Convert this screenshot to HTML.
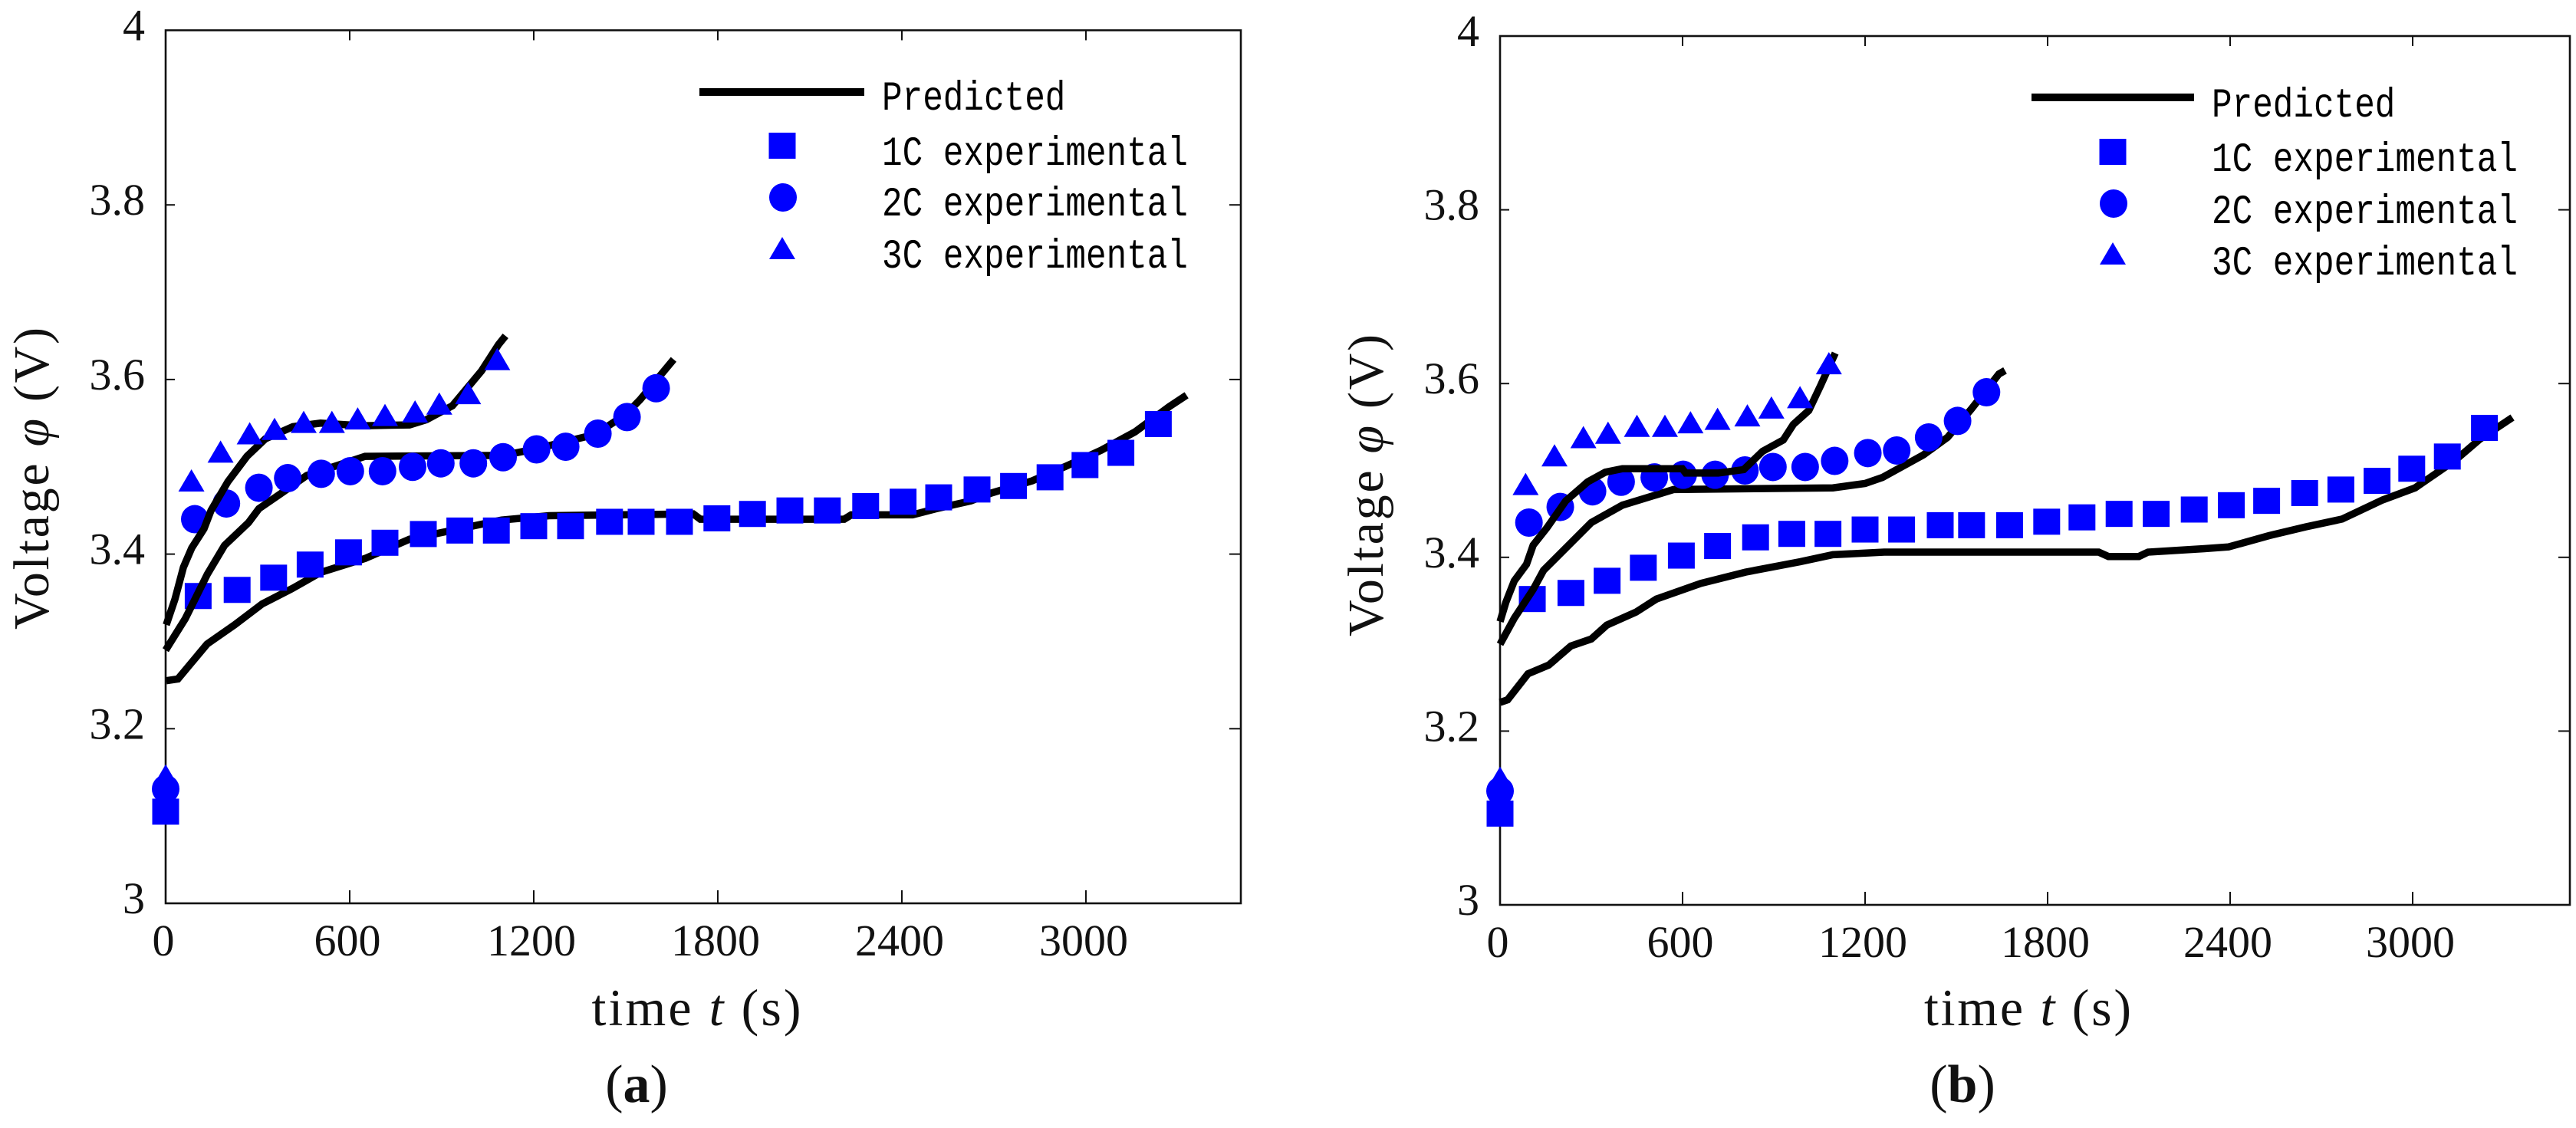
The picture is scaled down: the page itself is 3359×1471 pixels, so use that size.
<!DOCTYPE html>
<html lang="en">
<head>
<meta charset="utf-8">
<title>Voltage versus time, panels a and b</title>
<style>
  html, body { margin: 0; padding: 0; background: #fff; }
  svg { display: block; }
  .serif { font-family: "Liberation Serif", serif; fill: #111; }
  .mono { font-family: "Liberation Mono", monospace; fill: #000; }
</style>
</head>
<body>
<svg id="figure" xmlns="http://www.w3.org/2000/svg" width="3359" height="1471" viewBox="0 0 3359 1471">
  <rect x="0" y="0" width="3359" height="1471" fill="#fff"/>

  <g id="panel-a"></g>
  <g id="panel-b"></g>

  <text class="serif" transform="translate(63,624) rotate(-90)" text-anchor="middle" font-size="66" textLength="394" lengthAdjust="spacing">Voltage <tspan font-style="italic">φ</tspan> (V)</text>
  <text class="serif" x="908" y="1337" text-anchor="middle" font-size="68" textLength="273" lengthAdjust="spacing">time <tspan font-style="italic">t</tspan> (s)</text>
  <text class="serif" x="830" y="1437" text-anchor="middle" font-size="70">(<tspan font-weight="bold">a</tspan>)</text>

  <text class="serif" transform="translate(1803,633) rotate(-90)" text-anchor="middle" font-size="66" textLength="394" lengthAdjust="spacing">Voltage <tspan font-style="italic">φ</tspan> (V)</text>
  <text class="serif" x="2644" y="1337" text-anchor="middle" font-size="68" textLength="270" lengthAdjust="spacing">time <tspan font-style="italic">t</tspan> (s)</text>
  <text class="serif" x="2559" y="1437" text-anchor="middle" font-size="70">(<tspan font-weight="bold">b</tspan>)</text>
</svg>

<script>
// Axis ticks
const xTickValues = [0, 600, 1200, 1800, 2400, 3000];
const xTickLabels = ['0', '600', '1200', '1800', '2400', '3000'];
const yTickValues = [3, 3.2, 3.4, 3.6, 3.8, 4];
const yTickLabels = ['3', '3.2', '3.4', '3.6', '3.8', '4'];
const legendLabels = ['Predicted', '1C experimental', '2C experimental', '3C experimental'];

// Experimental data (same measurements in both panels)
const exp1cTime = [0, 106, 233, 352, 471, 596, 715, 840, 959, 1078, 1200, 1320, 1447, 1550, 1675, 1797, 1913, 2035, 2157, 2282, 2404, 2520, 2645, 2764, 2883, 2997, 3114, 3236];
const exp1cVolt = [3.105, 3.352, 3.359, 3.373, 3.388, 3.402, 3.413, 3.423, 3.427, 3.427, 3.432, 3.432, 3.437, 3.437, 3.437, 3.441, 3.446, 3.45, 3.45, 3.455, 3.46, 3.465, 3.474, 3.478, 3.488, 3.502, 3.516, 3.549];
const exp2cTime = [0, 95, 198, 304, 398, 507, 602, 707, 805, 897, 1003, 1100, 1209, 1304, 1409, 1504, 1599];
const exp2cVolt = [3.131, 3.44, 3.458, 3.476, 3.487, 3.492, 3.495, 3.495, 3.5, 3.504, 3.504, 3.511, 3.52, 3.523, 3.538, 3.557, 3.59];
const exp3cTime = [0, 84, 179, 274, 355, 450, 542, 626, 715, 813, 892, 986, 1081];
const exp3cVolt = [3.146, 3.484, 3.517, 3.538, 3.543, 3.551, 3.551, 3.555, 3.559, 3.563, 3.572, 3.584, 3.623];

// Predicted curves, panel a
const predA1cTime = [2, 40, 135, 225, 315, 415, 505, 650, 795, 1095, 1250, 1720, 1743, 2212, 2235, 2435, 2512, 2625, 2692, 2825, 2937, 3050, 3160, 3272, 3328];
const predA1cVolt = [3.255, 3.257, 3.297, 3.319, 3.343, 3.361, 3.379, 3.395, 3.417, 3.439, 3.444, 3.446, 3.44, 3.44, 3.445, 3.445, 3.452, 3.461, 3.47, 3.484, 3.501, 3.519, 3.54, 3.569, 3.582];
const predA2cTime = [0, 64, 136, 192, 270, 304, 370, 460, 650, 1100, 1200, 1400, 1500, 1547, 1656];
const predA2cVolt = [3.29, 3.326, 3.377, 3.41, 3.436, 3.452, 3.468, 3.49, 3.512, 3.513, 3.52, 3.537, 3.56, 3.577, 3.623];
const predA3cTime = [2, 30, 58, 85, 125, 148, 203, 265, 325, 415, 505, 640, 795, 850, 935, 1030, 1085, 1108];
const predA3cVolt = [3.319, 3.348, 3.385, 3.407, 3.429, 3.45, 3.483, 3.512, 3.532, 3.546, 3.55, 3.547, 3.548, 3.554, 3.57, 3.61, 3.64, 3.65];

// Predicted curves, panel b
const predB1cTime = [0, 25, 92, 160, 233, 300, 351, 447, 514, 660, 807, 987, 1094, 1263, 1968, 2000, 2100, 2130, 2315, 2395, 2528, 2648, 2768, 2901, 3008, 3141, 3221, 3328];
const predB1cVolt = [3.233, 3.236, 3.266, 3.276, 3.298, 3.306, 3.322, 3.337, 3.352, 3.37, 3.383, 3.395, 3.403, 3.406, 3.406, 3.401, 3.401, 3.406, 3.41, 3.412, 3.425, 3.435, 3.444, 3.466, 3.48, 3.512, 3.536, 3.561];
const predB2cTime = [0, 47, 109, 143, 300, 402, 570, 1094, 1200, 1257, 1392, 1471, 1550, 1640, 1660];
const predB2cVolt = [3.3, 3.33, 3.363, 3.385, 3.44, 3.46, 3.478, 3.48, 3.485, 3.492, 3.518, 3.538, 3.571, 3.611, 3.615];
const predB3cTime = [0, 19, 47, 87, 109, 154, 216, 289, 346, 402, 599, 610, 717, 801, 863, 931, 964, 1015, 1054, 1094, 1102];
const predB3cVolt = [3.326, 3.348, 3.373, 3.392, 3.414, 3.434, 3.465, 3.487, 3.498, 3.502, 3.502, 3.497, 3.497, 3.501, 3.522, 3.535, 3.553, 3.569, 3.598, 3.629, 3.635];

const SVG_NS = 'http://www.w3.org/2000/svg';
const BLUE = '#0000ff';

function make(parent, tag, attrs) {
  const el = document.createElementNS(SVG_NS, tag);
  for (const k in attrs) el.setAttribute(k, attrs[k]);
  parent.appendChild(el);
  return el;
}

function linearScale(d0, d1, r0, r1) {
  return function (v) { return r0 + (v - d0) * (r1 - r0) / (d1 - d0); };
}

function drawSquare(parent, cx, cy) {
  const el = make(parent, 'rect', { x: cx - 17.5, y: cy - 17, width: 35, height: 34, fill: BLUE });
  
  
}

function drawCircle(parent, cx, cy) {
  const el = make(parent, 'ellipse', { cx: cx, cy: cy, rx: 18, ry: 18.5, fill: BLUE });
  
  
}

function drawTriangle(parent, cx, cy) {
  const pts = cx + ',' + (cy - 15) + ' ' + (cx + 17) + ',' + (cy + 14) + ' ' + (cx - 17) + ',' + (cy + 14);
  const el = make(parent, 'polygon', { points: pts, fill: BLUE });
  
  
}

function drawCurve(parent, times, volts, sx, sy, name) {
  const pts = times.map(function (t, i) { return sx(t).toFixed(1) + ',' + sy(volts[i]).toFixed(1); }).join(' ');
  const el = make(parent, 'polyline', { points: pts, fill: 'none', stroke: '#000', 'stroke-width': 9.5, 'stroke-linejoin': 'miter' });
  
  
}

function drawPanel(groupId, box, curves, lg) {
  const g = document.getElementById(groupId);
  const sx = linearScale(0, 600, box.left, box.left + box.xPer600);
  const sy = linearScale(3, 4, box.bottom, box.top);

  // Frame
  const frame = make(g, 'rect', { x: box.left, y: box.top, width: box.right - box.left, height: box.bottom - box.top, fill: 'none', stroke: '#111', 'stroke-width': 2.6 });
  
  

  // X ticks and labels
  xTickValues.forEach(function (v, i) {
    const x = sx(v);
    if (v !== 0) {
      const tb = make(g, 'line', { x1: x, x2: x, y1: box.bottom, y2: box.bottom - 17, stroke: '#111', 'stroke-width': 2 });
      
      
      const tt = make(g, 'line', { x1: x, x2: x, y1: box.top, y2: box.top + 13, stroke: '#111', 'stroke-width': 2 });
      
      
    }
    const lab = make(g, 'text', { x: x - 3, y: box.bottom + 68, 'text-anchor': 'middle', 'font-size': 58, class: 'serif' });
    
    
    lab.textContent = xTickLabels[i];
  });

  // Y ticks and labels
  yTickValues.forEach(function (v, i) {
    const y = sy(v);
    if (v !== 3 && v !== 4) {
      const tl = make(g, 'line', { x1: box.left, x2: box.left + 12, y1: y, y2: y, stroke: '#111', 'stroke-width': 2 });
      
      
      const tr = make(g, 'line', { x1: box.right, x2: box.right - 15, y1: y, y2: y, stroke: '#111', 'stroke-width': 2 });
      
      
    }
    const lab = make(g, 'text', { x: box.left - 27, y: y + 13, 'text-anchor': 'end', 'font-size': 58, class: 'serif' });
    
    
    lab.textContent = yTickLabels[i];
  });

  // Series: each predicted curve followed by its markers
  drawCurve(g, curves.t1, curves.v1, sx, sy, 'predicted-1c-line');
  exp1cTime.forEach(function (t, i) { drawSquare(g, sx(t), sy(exp1cVolt[i])); });
  drawCurve(g, curves.t2, curves.v2, sx, sy, 'predicted-2c-line');
  exp2cTime.forEach(function (t, i) { drawCircle(g, sx(t), sy(exp2cVolt[i])); });
  drawCurve(g, curves.t3, curves.v3, sx, sy, 'predicted-3c-line');
  exp3cTime.forEach(function (t, i) { drawTriangle(g, sx(t), sy(exp3cVolt[i])); });

  // Legend
  const legend = make(g, 'g', {});
  
  

  const swatch = make(legend, 'line', { x1: lg.lineX1, x2: lg.lineX2, y1: lg.lineY, y2: lg.lineY, stroke: '#000', 'stroke-width': 10 });
  
  
  drawSquare(legend, lg.markerX, lg.markerY[0]);
  drawCircle(legend, lg.markerX + 1, lg.markerY[1]);
  drawTriangle(legend, lg.markerX, lg.markerY[2]);

  legendLabels.forEach(function (label, i) {
    const t = make(legend, 'text', {
      x: lg.textX, y: lg.textY[i], class: 'mono', 'font-size': 54,
      textLength: label.length * 26.6, lengthAdjust: 'spacingAndGlyphs'
    });
    
    
    t.textContent = label;
  });
}

drawPanel('panel-a',
  { left: 216, right: 1618, top: 39.5, bottom: 1178, xPer600: 240 },
  { t1: predA1cTime, v1: predA1cVolt, t2: predA2cTime, v2: predA2cVolt, t3: predA3cTime, v3: predA3cVolt },
  { lineX1: 912, lineX2: 1127, lineY: 120, markerX: 1020, markerY: [190, 257.5, 324], textX: 1150, textY: [143, 215, 281, 349] });

drawPanel('panel-b',
  { left: 1956, right: 3351, top: 47, bottom: 1180, xPer600: 238 },
  { t1: predB1cTime, v1: predB1cVolt, t2: predB2cTime, v2: predB2cVolt, t3: predB3cTime, v3: predB3cVolt },
  { lineX1: 2649, lineX2: 2861, lineY: 127, markerX: 2755, markerY: [198, 265.5, 331], textX: 2884, textY: [152, 223, 291, 358] });
</script>
</body>
</html>
